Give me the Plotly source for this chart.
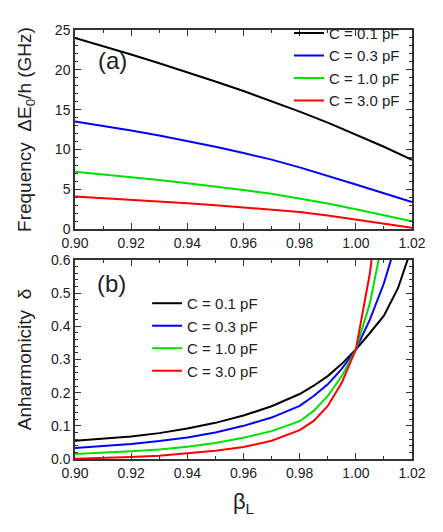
import plotly.graph_objects as go

# ---------------- data ----------------
labels = ["C = 0.1 pF", "C = 0.3 pF", "C = 1.0 pF", "C = 3.0 pF"]
colors = ["#000000", "#0000ff", "#00e000", "#ff0000"]

# panel (a): frequency dE0/h (GHz) vs beta_L
beta_a = [0.90, 0.91, 0.92, 0.93, 0.94, 0.95, 0.96, 0.97, 0.98, 0.99, 1.00, 1.01, 1.02]
freq_01 = [24.0, 22.98, 21.92, 20.83, 19.71, 18.54, 17.33, 16.07, 14.75, 13.36, 11.89, 10.34, 8.70]
freq_03 = [13.5, 12.95, 12.37, 11.75, 11.08, 10.35, 9.56, 8.72, 7.75, 6.7, 5.6, 4.5, 3.4]
freq_10 = [7.2, 6.87, 6.52, 6.15, 5.76, 5.35, 4.91, 4.43, 3.86, 3.2, 2.5, 1.76, 0.98]
freq_30 = [4.1, 3.9, 3.69, 3.47, 3.24, 3.0, 2.74, 2.48, 2.15, 1.7, 1.18, 0.66, 0.15]

# panel (b): anharmonicity delta vs beta_L
beta_b = [0.90, 0.91, 0.92, 0.93, 0.94, 0.95, 0.96, 0.97, 0.98, 0.985, 0.99, 0.995,
          1.00, 1.005, 1.01, 1.015, 1.02]
anh_01 = [0.055, 0.061, 0.068, 0.078, 0.092, 0.109, 0.131, 0.159, 0.196, 0.221, 0.250, 0.287,
          0.330, 0.380, 0.432, 0.515, 0.64]
anh_03 = [0.033, 0.038, 0.045, 0.054, 0.065, 0.080, 0.100, 0.125, 0.160, 0.190, 0.225, 0.272,
          0.330, 0.420, 0.530, 0.67, 0.85]
anh_10 = [0.015, 0.018, 0.023, 0.029, 0.037, 0.048, 0.064, 0.084, 0.114, 0.145, 0.190, 0.250,
          0.330, 0.470, 0.68, 0.90, 1.10]
anh_30 = [0.001, 0.003, 0.006, 0.010, 0.017, 0.025, 0.036, 0.055, 0.087, 0.115, 0.160, 0.230,
          0.330, 0.560, 0.90, 1.20, 1.50]

freqs = [freq_01, freq_03, freq_10, freq_30]
anhs = [anh_01, anh_03, anh_10, anh_30]

FONT = "Liberation Sans, Arial, Helvetica, sans-serif"

fig = go.Figure()
for lab, col, f in zip(labels, colors, freqs):
    fig.add_trace(go.Scatter(x=beta_a, y=f, mode="lines", name=lab,
                             line=dict(color=col, width=2),
                             xaxis="x", yaxis="y", legend="legend"))
for lab, col, a in zip(labels, colors, anhs):
    fig.add_trace(go.Scatter(x=beta_b, y=a, mode="lines", name=lab,
                             line=dict(color=col, width=2),
                             xaxis="x2", yaxis="y2", legend="legend2"))

axcommon = dict(showline=True, linecolor="#333333", linewidth=1.5, mirror="ticks",
                ticks="inside", ticklen=6, tickwidth=1.2, tickcolor="#333333",
                showgrid=False, zeroline=False,
                tickfont=dict(family=FONT, size=14, color="#222222"))

top_dom = [0.536, 1.0]
bot_dom = [0.0, 0.4638]
minor_x = dict(dtick=0.01, ticks="inside", ticklen=3, tickcolor="#333333")

fig.update_layout(
    width=427, height=516,
    margin=dict(l=67, r=16, t=9, b=65),
    paper_bgcolor="white", plot_bgcolor="white",
    font=dict(family=FONT, color="#222222"),
    xaxis=dict(domain=[0, 1], anchor="y", range=[0.9, 1.02], dtick=0.02, tick0=0.9,
               tickformat=".2f", minor=minor_x, **axcommon),
    yaxis=dict(domain=top_dom, anchor="x", range=[0, 25], dtick=5,
               minor=dict(dtick=1, ticks="inside", ticklen=3, tickcolor="#333333"),
               title=dict(text="Frequency\u00a0\u00a0ΔE<sub>0</sub>/h (GHz)",
                          font=dict(family=FONT, size=19), standoff=18),
               **axcommon),
    xaxis2=dict(domain=[0, 1], anchor="y2", range=[0.9, 1.02], dtick=0.02, tick0=0.9,
                tickformat=".2f", minor=minor_x,
                title=dict(text="β<sub>L</sub>", font=dict(family=FONT, size=22), standoff=14),
                **axcommon),
    yaxis2=dict(domain=bot_dom, anchor="x2", range=[0, 0.6], dtick=0.1, tickformat=".1f",
                minor=dict(dtick=0.02, ticks="inside", ticklen=3, tickcolor="#333333"),
                title=dict(text="Anharmonicity\u00a0\u00a0δ", font=dict(family=FONT, size=19),
                           standoff=14),
                **axcommon),
    legend=dict(x=0.635, xanchor="left", y=1.031, yanchor="top",
                bgcolor="rgba(0,0,0,0)", font=dict(family=FONT, size=15),
                tracegroupgap=0),
    legend2=dict(x=0.214, xanchor="left", y=0.401, yanchor="top",
                 bgcolor="rgba(0,0,0,0)", font=dict(family=FONT, size=15),
                 tracegroupgap=0),
    showlegend=True,
    annotations=[
        dict(text="(a)", x=0.11, y=0.93, xref="paper", yref="paper", showarrow=False,
             xanchor="center", yanchor="middle",
             font=dict(family=FONT, size=24, color="#222222")),
        dict(text="(b)", x=0.107, y=0.41, xref="paper", yref="paper", showarrow=False,
             xanchor="center", yanchor="middle",
             font=dict(family=FONT, size=24, color="#222222")),
    ],
)

fig.write_html("out.html")
